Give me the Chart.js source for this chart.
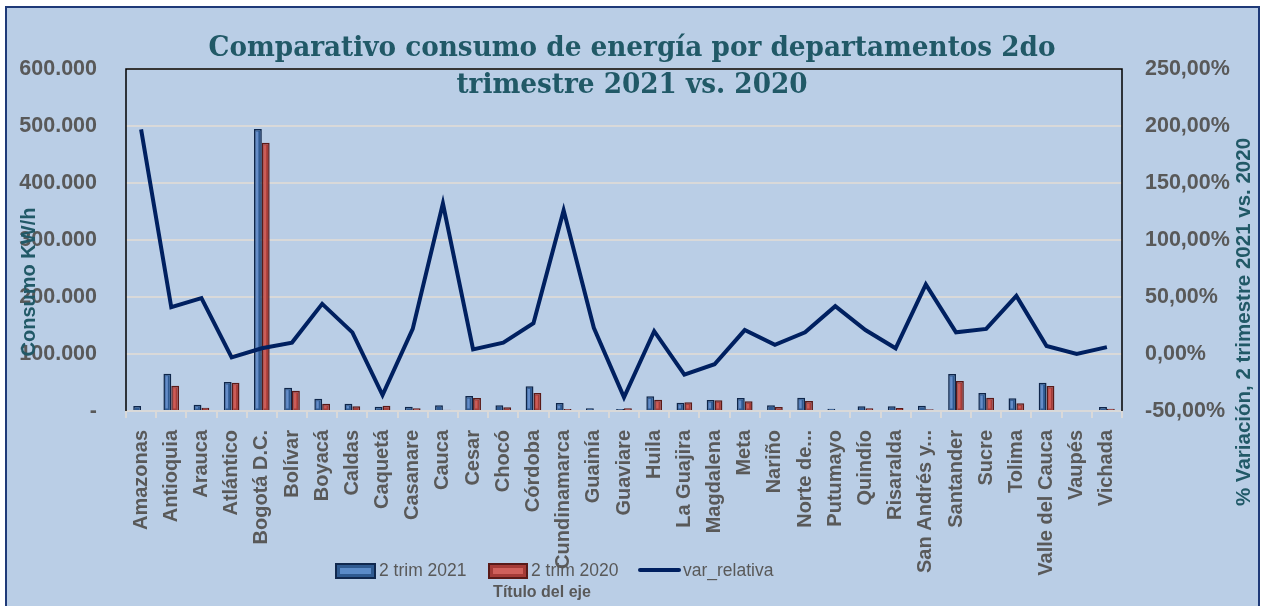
<!DOCTYPE html>
<html>
<head>
<meta charset="utf-8">
<script src="https://cdn.jsdelivr.net/npm/chart.js@4.4.1/dist/chart.umd.min.js"></script>
<style>
  html, body { margin: 0; padding: 0; background: #ffffff; }
  #wrap { width: 1262px; height: 606px; }
</style>
</head>
<body>
<div id="wrap"><canvas id="c" width="1262" height="606"></canvas></div>
<script>
const categories = ['Amazonas','Antioquia','Arauca','Atlántico','Bogotá D.C.','Bolívar','Boyacá','Caldas','Caquetá','Casanare','Cauca','Cesar','Chocó','Córdoba','Cundinamarca','Guainía','Guaviare','Huila','La Guajira','Magdalena','Meta','Nariño','Norte de...','Putumayo','Quindío','Risaralda','San Andrés y...','Santander','Sucre','Tolima','Valle del Cauca','Vaupés','Vichada'];
const trim2021 = [8800, 65500, 11100, 50900, 494700, 41000, 21600, 12900, 7600, 7600, 10000, 26300, 10000, 43300, 14000, 4700, 3500, 25700, 14600, 19300, 22800, 10000, 23400, 4100, 8200, 8200, 9400, 65000, 31600, 22200, 49700, 0, 7000];
const trim2020 = [1800, 44500, 5800, 49700, 470600, 35700, 12900, 8200, 9400, 4700, 2300, 22800, 6400, 31600, 3500, 1800, 4700, 19900, 15200, 18700, 17000, 7000, 17500, 1800, 4700, 5300, 2900, 52600, 23400, 13500, 43900, 0, 4100];
const varRelativa = [197, 41, 49, -3, 5, 10, 44, 19, -36, 22, 132, 4, 10, 27, 126, 23, -38, 20, -18, -9, 21, 8, 19, 42, 21, 5, 61, 19, 22, 51, 7, 0, 6];
const seriesNames = ['2 trim 2021', '2 trim 2020', 'var_relativa'];
const leftAxisTitle = 'Consumo KW/h';
const rightAxisTitle = '% Variación, 2 trimestre 2021 vs. 2020';
const xAxisTitle = 'Título del eje';
const titleLines = ['Comparativo consumo de energía por departamentos 2do', 'trimestre 2021 vs. 2020'];

const GRAY = '#595959';
const TEAL = '#215967';
const BG = '#BACEE6';

function fmtThousands(v) {
  if (v === 0) return '-';
  return String(Math.round(v)).replace(/\B(?=(\d{3})+(?!\d))/g, '.');
}
function fmtPct(v) {
  return v.toFixed(2).replace('.', ',') + '%';
}

function barSwatch(ctx, x, y, w, h, fill, light, border) {
  ctx.fillStyle = border;
  ctx.fillRect(x, y, w, h);
  ctx.fillStyle = fill;
  ctx.fillRect(x + 2, y + 2, w - 4, h - 4);
  ctx.fillStyle = light;
  ctx.fillRect(x + 5, y + 5, w - 10, h - 10);
}

const barLights = { 1: 'rgba(110,150,210,0.85)', 2: 'rgba(215,100,95,0.8)' };

const bevelPlugin = {
  id: 'bevel',
  afterDatasetDraw(chart, args) {
    const light = barLights[args.index];
    if (!light) return;
    const ctx = chart.ctx;
    const meta = args.meta;
    ctx.save();
    ctx.fillStyle = light;
    meta.data.forEach((el) => {
      const p = el.getProps(['x', 'y', 'base', 'width'], true);
      const h = p.base - p.y;
      if (h < 5) return;
      const left = p.x - p.width / 2;
      ctx.fillRect(left + 2, p.y + 2.5, Math.max(1, p.width / 2 - 1.5), h - 4);
    });
    ctx.restore();
  }
};

const decorPlugin = {
  id: 'decor',
  beforeDraw(chart) {
    const ctx = chart.ctx;
    ctx.save();
    ctx.fillStyle = '#ffffff';
    ctx.fillRect(0, 0, chart.width, chart.height);
    ctx.fillStyle = BG;
    ctx.fillRect(6, 7, 1253, 610);
    ctx.strokeStyle = '#1F3A78';
    ctx.lineWidth = 2;
    ctx.strokeRect(6, 7, 1253, 610);
    ctx.restore();
  },
  afterDraw(chart) {
    const ctx = chart.ctx;
    const a = chart.chartArea;
    ctx.save();
    // plot frame
    ctx.strokeStyle = '#000000';
    ctx.lineWidth = 1.5;
    ctx.beginPath();
    ctx.moveTo(a.left, a.bottom);
    ctx.lineTo(a.left, a.top);
    ctx.lineTo(a.right, a.top);
    ctx.lineTo(a.right, a.bottom);
    ctx.stroke();

    // title (fit line 1 to reference width)
    ctx.fillStyle = TEAL;
    ctx.textAlign = 'center';
    ctx.textBaseline = 'alphabetic';
    ctx.font = 'bold 28px "DejaVu Serif"';
    const w1 = ctx.measureText(titleLines[0]).width;
    const sx = 847 / w1;
    ctx.save();
    ctx.translate(632, 0);
    ctx.scale(sx, 1);
    ctx.fillText(titleLines[0], 0, 56);
    ctx.fillText(titleLines[1], 0, 93);
    ctx.restore();

    // axis titles
    ctx.font = 'bold 20px "Liberation Sans"';
    ctx.fillStyle = TEAL;
    ctx.textBaseline = 'middle';
    ctx.save();
    ctx.translate(29, 282);
    ctx.rotate(-Math.PI / 2);
    ctx.fillText(leftAxisTitle, 0, 0);
    ctx.restore();
    ctx.save();
    ctx.translate(1244, 322);
    ctx.rotate(-Math.PI / 2);
    ctx.font = 'bold 20.5px "Liberation Sans"';
    ctx.fillText(rightAxisTitle, 0, 0);
    ctx.restore();

    // legend
    barSwatch(ctx, 335, 563, 41, 16, '#2F5A90', '#5B8BC8', '#10284E');
    barSwatch(ctx, 488, 563, 40, 16, '#A53B37', '#D0605B', '#5A1A18');
    ctx.strokeStyle = '#002060';
    ctx.lineWidth = 4;
    ctx.lineCap = 'round';
    ctx.beginPath();
    ctx.moveTo(640, 570);
    ctx.lineTo(679, 570);
    ctx.stroke();
    ctx.font = '17.5px "Liberation Sans"';
    ctx.fillStyle = GRAY;
    ctx.textAlign = 'left';
    ctx.textBaseline = 'middle';
    ctx.fillText(seriesNames[0], 379, 571);
    ctx.fillText(seriesNames[1], 531, 571);
    ctx.fillText(seriesNames[2], 683, 571);

    // x axis title
    ctx.font = 'bold 16px "Liberation Sans"';
    ctx.textAlign = 'center';
    ctx.fillText(xAxisTitle, 542, 593);
    ctx.restore();
  }
};

const chart = new Chart(document.getElementById('c'), {
  type: 'bar',
  data: {
    labels: categories,
    datasets: [
      {
        type: 'line',
        label: seriesNames[2],
        data: varRelativa,
        yAxisID: 'y1',
        borderColor: '#002060',
        borderWidth: 4,
        pointRadius: 0,
        tension: 0,
        fill: false,
        order: 0
      },
      {
        label: seriesNames[0],
        data: trim2021,
        yAxisID: 'y',
        backgroundColor: '#2F5A92',
        borderColor: '#0F264A',
        borderWidth: 1.5,
        barPercentage: 1.0,
        categoryPercentage: 0.52,
        order: 1
      },
      {
        label: seriesNames[1],
        data: trim2020,
        yAxisID: 'y',
        backgroundColor: '#A63C38',
        borderColor: '#5A1A18',
        borderWidth: 1.5,
        barPercentage: 1.0,
        categoryPercentage: 0.52,
        order: 1
      }
    ]
  },
  options: {
    responsive: false,
    animation: false,
    devicePixelRatio: 1,
    layout: { padding: { top: 69, left: 0, right: 0, bottom: 0 } },
    plugins: {
      legend: { display: false },
      title: { display: false },
      tooltip: { enabled: false }
    },
    scales: {
      x: {
        offset: true,
        grid: { display: true, drawOnChartArea: false, drawTicks: true, tickLength: 7, color: '#D9D9D9', lineWidth: 2, offset: true },
        border: { display: true, color: '#D9D9D9', width: 2 },
        ticks: {
          autoSkip: false,
          maxRotation: 90,
          minRotation: 90,
          padding: 12,
          color: GRAY,
          font: { family: '"Liberation Sans"', size: 20, weight: 'bold' }
        },
        afterFit(scale) { scale.height = 195; }
      },
      y: {
        position: 'left',
        min: 0,
        max: 600000,
        grid: { color: '#D9D9D9', lineWidth: 2, drawTicks: false },
        border: { display: false },
        ticks: {
          stepSize: 100000,
          padding: 29,
          color: GRAY,
          font: { family: '"Liberation Sans"', size: 21.5, weight: 'bold' },
          callback: (v) => fmtThousands(v)
        },
        afterFit(scale) { scale.width = 126; }
      },
      y1: {
        position: 'right',
        min: -50,
        max: 250,
        grid: { display: false, drawOnChartArea: false, drawTicks: false },
        border: { display: false },
        ticks: {
          stepSize: 50,
          padding: 23,
          color: GRAY,
          font: { family: '"Liberation Sans"', size: 21.5, weight: 'bold' },
          callback: (v) => fmtPct(v)
        },
        afterFit(scale) { scale.width = 140; }
      }
    }
  },
  plugins: [bevelPlugin, decorPlugin]
});
</script>
</body>
</html>
